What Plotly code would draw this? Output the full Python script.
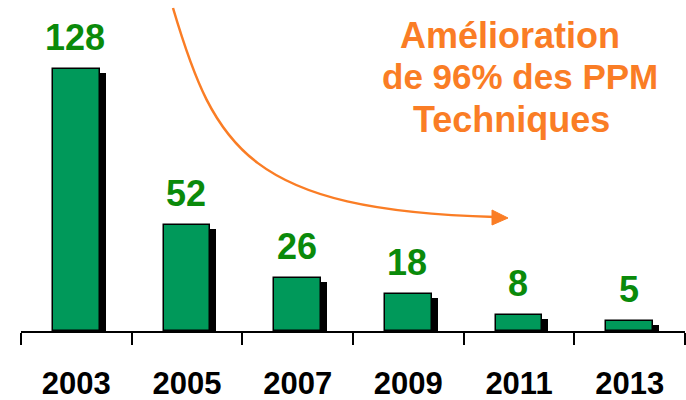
import plotly.graph_objects as go

# PPM techniques par année
years = ["2003", "2005", "2007", "2009", "2011", "2013"]
ppm = [128, 52, 26, 18, 8, 5]
note_lines = ["Amélioration", "de 96% des PPM", "Techniques"]

W, H = 686, 400
L, R, T, B = 21, 1, 0, 69
pw, ph = W - L - R, H - T - B
ymax = 161.7
px_per_unit = ph / ymax
cat_px = pw / len(years)

bar_w = 0.42
sh_dx = 6 / cat_px          # décalage ombre (droite)
sh_dy = 4 / px_per_unit     # décalage ombre (bas)

GREEN_BAR = "#00995A"
GREEN_TXT = "#0A8A0A"
ORANGE = "#FA7D25"
FONT = "Liberation Sans, Arial, sans-serif"


def to_paper(x, y):
    return (x - L) / pw, (H - B - y) / ph


fig = go.Figure()

# ombre
fig.add_trace(go.Bar(
    x=years, y=[v - sh_dy for v in ppm],
    width=bar_w, offset=-bar_w / 2 + sh_dx,
    marker=dict(color="black", line=dict(width=0)),
    hoverinfo="skip", showlegend=False,
))
# barres
fig.add_trace(go.Bar(
    x=years, y=ppm,
    width=bar_w, offset=-bar_w / 2,
    marker=dict(color=GREEN_BAR, line=dict(color="black", width=1.5)),
    showlegend=False,
))

for i, v in enumerate(ppm):
    fig.add_annotation(
        x=i, y=v, text=f"<b>{v}</b>", showarrow=False,
        yanchor="bottom", yshift=9, xshift=-1,
        font=dict(family=FONT, size=36, color=GREEN_TXT),
    )

# flèche courbe
p0, p1, p2, p3 = (173, 8), (215, 150), (250, 210), (495, 217)
pts = [to_paper(*p) for p in (p0, p1, p2, p3)]
path = "M {} {} C {} {}, {} {}, {} {}".format(*[c for p in pts for c in p])
fig.add_shape(type="path", path=path, xref="paper", yref="paper",
              line=dict(color=ORANGE, width=2.5), layer="above")
tri = [to_paper(*p) for p in ((508, 218), (492, 210), (492, 225))]
fig.add_shape(type="path", xref="paper", yref="paper",
              path="M {} {} L {} {} L {} {} Z".format(*[c for p in tri for c in p]),
              fillcolor=ORANGE, line=dict(color=ORANGE, width=1))

for line_txt, cx, cy, fs in zip(note_lines, (510, 520, 511), (35, 77, 119), (36, 35, 36)):
    tx, ty = to_paper(cx, cy)
    fig.add_annotation(
        x=tx, y=ty, xref="paper", yref="paper", xanchor="center", yanchor="middle",
        text=f"<b>{line_txt}</b>", showarrow=False,
        font=dict(family=FONT, size=fs, color=ORANGE),
    )

fig.update_layout(
    width=W, height=H,
    margin=dict(l=L, r=R, t=T, b=B, autoexpand=False),
    paper_bgcolor="white", plot_bgcolor="white",
    barmode="overlay", bargap=0,
    xaxis=dict(
        type="category", range=[-0.5, len(years) - 0.5], automargin=False,
        tickson="boundaries", ticks="outside", ticklen=12, tickwidth=2,
        tickcolor="black", showline=True, linecolor="black", linewidth=2,
        showgrid=False, ticklabelstandoff=24,
        tickfont=dict(family=FONT, size=31, color="black", weight="bold"),
    ),
    yaxis=dict(range=[0, ymax], visible=False, showgrid=False, automargin=False),
)

# pas de marge autour du graphique dans la page
fig.write_html("out.html", config={"displayModeBar": False},
               post_script="document.body.style.margin='0';")
